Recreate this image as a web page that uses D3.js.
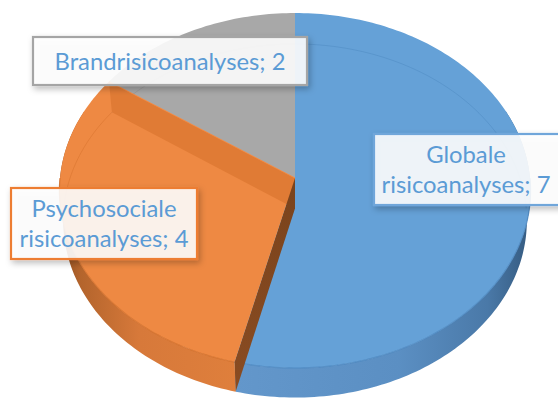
<!DOCTYPE html>
<html>
<head>
<meta charset="utf-8">
<script src="https://cdn.jsdelivr.net/npm/d3@7"></script>
<style>
  html, body { margin: 0; padding: 0; background: #ffffff; }
  svg { display: block; }
</style>
</head>
<body>
<svg id="chart" width="558" height="399"></svg>
<script>
// Risk analyses by type
const categories = ["Globale risicoanalyses", "Psychosociale risicoanalyses", "Brandrisicoanalyses"];
const values = [7, 4, 2];
const topColors = ["#65A1D7", "#EE8943", "#A8A8A8"];
const edgeColors = ["#4C87BF", "#D26F2A", "#8E8E8E"];

const svg = d3.select("#chart");
const W = 558, H = 399;

// Perspective projection of the tilted disc (unit radius, top at z = 0)
const cx = 295, cy = 178, K = 235;
const sinT = 0.7516, cosT = 0.659, rd = 0.107;
const depth = 0.2;
function proj(theta, r, z) {
  const X = r * Math.sin(theta), Y = r * Math.cos(theta);
  const w = 1 + rd * (Y * cosT - z * sinT);
  return [cx + K * X / w, cy - K * (Y * sinT + z * cosT) / w];
}
function arcPts(a, b, r, z) {
  const n = Math.max(2, Math.ceil(Math.abs(b - a) / 0.02));
  return d3.range(n + 1).map(i => proj(a + (b - a) * i / n, r, z));
}
const line = d3.line();

const data = categories.map((c, i) => ({ category: c, value: values[i], i }));
const pie = d3.pie().value(d => d.value).sort(null).startAngle(0).endAngle(2 * Math.PI);
const arcs = pie(data);
const color = d3.scaleOrdinal().domain(categories).range(topColors);
const edge = d3.scaleOrdinal().domain(categories).range(edgeColors);

const defs = svg.append("defs");
// side shading
const gBlue = defs.append("linearGradient").attr("id", "sideBlue")
  .attr("gradientUnits", "userSpaceOnUse").attr("x1", 235).attr("x2", 532).attr("y1", 0).attr("y2", 0);
[[0, "#6397CB"], [0.55, "#5B8FC3"], [0.85, "#4A79A8"], [1, "#34597E"]].forEach(s =>
  gBlue.append("stop").attr("offset", s[0]).attr("stop-color", s[1]));
const gOr = defs.append("linearGradient").attr("id", "sideOrange")
  .attr("gradientUnits", "userSpaceOnUse").attr("x1", 58).attr("x2", 238).attr("y1", 0).attr("y2", 0);
[[0, "#8E4C1E"], [0.12, "#B3642C"], [0.45, "#D7793A"], [1, "#DF7F3C"]].forEach(s =>
  gOr.append("stop").attr("offset", s[0]).attr("stop-color", s[1]));
const gBrown = defs.append("linearGradient").attr("id", "cutFace")
  .attr("gradientUnits", "userSpaceOnUse").attr("x1", 0).attr("x2", 0).attr("y1", 178).attr("y2", 398);
[[0, "#7A431C"], [1, "#8A4C22"]].forEach(s =>
  gBrown.append("stop").attr("offset", s[0]).attr("stop-color", s[1]));
const shadow = defs.append("filter").attr("id", "shadow")
  .attr("x", "-10%").attr("y", "-20%").attr("width", "130%").attr("height", "160%");
shadow.append("feDropShadow").attr("dx", 2).attr("dy", 3).attr("stdDeviation", 3)
  .attr("flood-color", "#000").attr("flood-opacity", 0.28);

const sideFill = ["url(#sideBlue)", "url(#sideOrange)", "#8A8A8A"];

// outer walls (front half)
const sideLo = Math.PI / 2 - 0.4, sideHi = 1.5 * Math.PI + 0.4;
arcs.forEach(d => {
  const a = Math.max(d.startAngle, sideLo), b = Math.min(d.endAngle, sideHi);
  if (b <= a) return;
  const pts = arcPts(a, b, 1, 0).concat(arcPts(b, a, 1, -depth));
  svg.append("path").attr("d", line(pts) + "Z").attr("fill", sideFill[d.data.i]);
});

// top faces
arcs.forEach(d => {
  const pts = [proj(0, 0, 0)].concat(arcPts(d.startAngle, d.endAngle, 1, 0));
  svg.append("path").attr("d", line(pts) + "Z").attr("fill", color(d.data.category));
});

// front rim edge between top and wall
arcs.forEach(d => {
  const a = Math.max(d.startAngle, Math.PI / 2), b = Math.min(d.endAngle, 1.5 * Math.PI);
  if (b <= a) return;
  svg.append("path").attr("d", line(arcPts(a, b, 1, 0))).attr("fill", "none")
    .attr("stroke", edge(d.data.category)).attr("stroke-width", 1.2).attr("opacity", 0.8);
});

// back wall bottom edge, faintly visible through the top
arcs.forEach(d => {
  const segs = [[d.startAngle, Math.min(d.endAngle, Math.PI / 2)],
                [Math.max(d.startAngle, 1.5 * Math.PI), d.endAngle]];
  segs.forEach(s => {
    if (s[1] <= s[0]) return;
    svg.append("path").attr("d", line(arcPts(s[0], s[1], 1, -depth))).attr("fill", "none")
      .attr("stroke", edge(d.data.category)).attr("stroke-width", 1).attr("opacity", 0.45);
  });
});

// cut faces of the psychosocial slice
const ps = arcs[1];
const faceEnd = [proj(ps.endAngle, 1, 0), proj(0, 0, 0), proj(0, 0, -depth), proj(ps.endAngle, 1, -depth)];
svg.append("path").attr("d", line(faceEnd) + "Z").attr("fill", "#E07B35");
const faceStart = [proj(0, 0, 0), proj(ps.startAngle, 1, 0), proj(ps.startAngle, 1, -depth), proj(0, 0, -depth)];
svg.append("path").attr("d", line(faceStart) + "Z").attr("fill", "url(#cutFace)");
svg.append("path").attr("d", line([proj(ps.endAngle, 1, 0), proj(0, 0, 0)]))
  .attr("stroke", "#F08A45").attr("stroke-width", 1).attr("fill", "none");

// data labels
const labelFont = "Lato, 'Liberation Sans', sans-serif";
const labelBoxes = [
  { x: 374, y: 134, w: 188, h: 71, border: "#6FA6DA", lines: 2 },
  { x: 11, y: 188, w: 186, h: 71, border: "#ED7D31", lines: 2 },
  { x: 33, y: 37, w: 274, h: 48, border: "#A5A5A5", lines: 1 }
];
function labelLines(d) {
  const txt = d.data.category + "; " + d.data.value;
  const box = labelBoxes[d.data.i];
  if (box.lines === 1) return [txt];
  const k = txt.indexOf(" ");
  return [txt.slice(0, k), txt.slice(k + 1)];
}
// size the font from a reference line
const probe = svg.append("text").attr("font-family", labelFont).attr("font-size", 20).text("risicoanalyses; 7");
const fs = 20 * 169 / probe.node().getComputedTextLength();
probe.remove();

arcs.forEach(d => {
  const b = labelBoxes[d.data.i];
  const g = svg.append("g");
  g.append("rect").attr("x", b.x).attr("y", b.y).attr("width", b.w).attr("height", b.h)
    .attr("fill", "#ffffff").attr("fill-opacity", 0.88)
    .attr("stroke", b.border).attr("stroke-width", 2.2).attr("filter", "url(#shadow)");
  const ls = labelLines(d);
  const mid = b.x + (d.data.i === 0 ? 92 : b.w / 2);
  const lh = 30;
  const base = b.y + b.h / 2 + fs * 0.36 - (ls.length - 1) * lh / 2;
  ls.forEach((t, j) => {
    g.append("text").attr("x", mid).attr("y", base + j * lh)
      .attr("text-anchor", "middle").attr("font-family", labelFont).attr("font-size", fs)
      .attr("fill", "#5B9BD5").text(t);
  });
});
</script>
</body>
</html>
